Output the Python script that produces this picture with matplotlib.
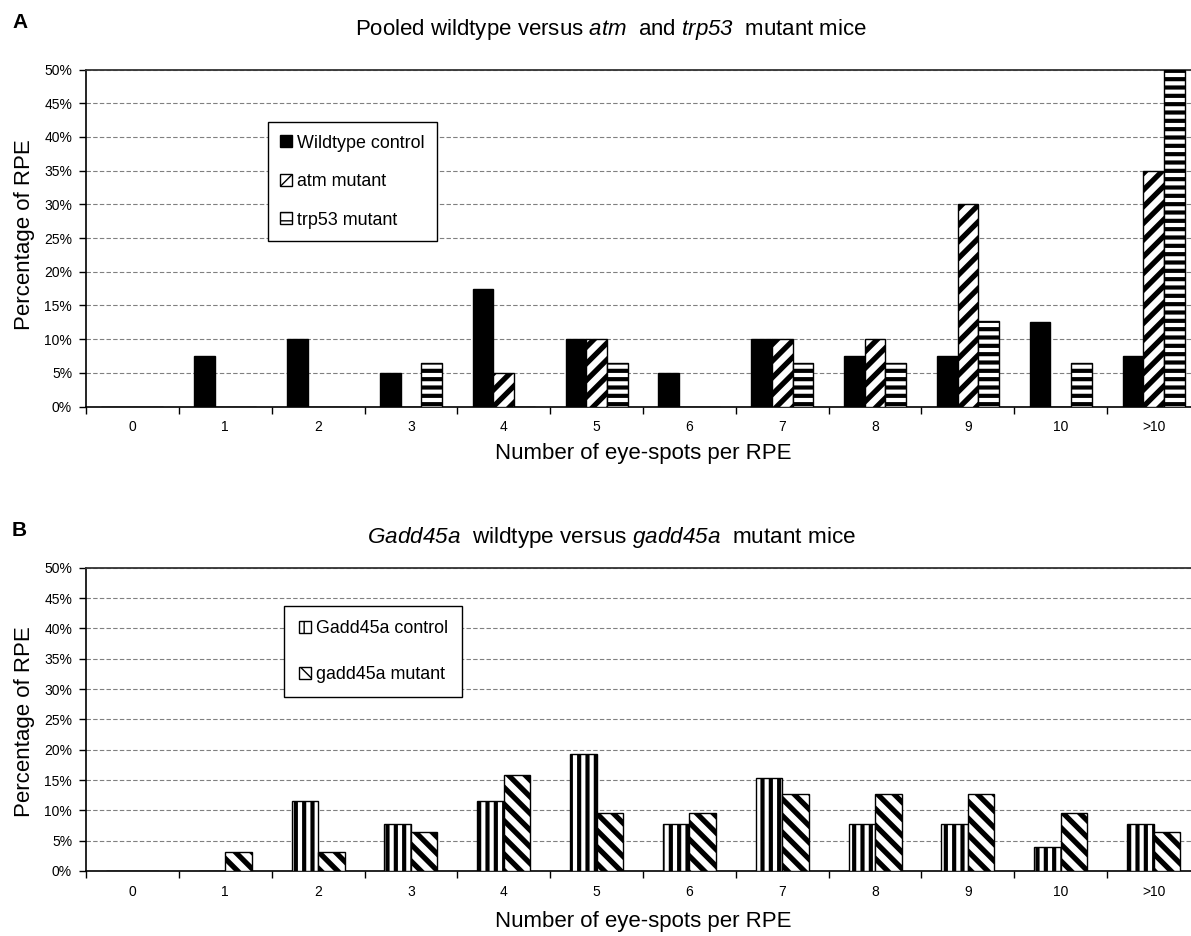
import matplotlib
matplotlib.use("Agg")
import matplotlib.pyplot as plt
import numpy as np

plt.rcParams['font.family'] = ['Liberation Sans', 'DejaVu Sans']
# gene names in the titles are set fully in italics, digits included
plt.rcParams['mathtext.fontset'] = 'custom'
plt.rcParams['mathtext.rm'] = 'Liberation Sans:italic'
plt.rcParams['mathtext.it'] = 'Liberation Sans:italic'

# Categories: number of eye-spots per RPE
categories = ["0", "1", "2", "3", "4", "5", "6", "7", "8", "9", "10", ">10"]

# Panel A, percentage of RPE
wildtype = [0, 7.5, 10, 5, 17.5, 10, 5, 10, 7.5, 7.5, 12.5, 7.5]
atm = [0, 0, 0, 0, 5, 10, 0, 10, 10, 30, 0, 35]
trp53 = [0, 0, 0, 6.5, 0, 6.5, 0, 6.5, 6.5, 12.7, 6.5, 50]

# Panel B, percentage of RPE
gadd_control = [0, 0, 11.6, 7.7, 11.6, 19.3, 7.7, 15.4, 7.7, 7.7, 3.9, 7.7]
gadd_mutant = [0, 3.2, 3.2, 6.4, 15.8, 9.6, 9.6, 12.7, 12.7, 12.7, 9.6, 6.4]

yticks = [0, 5, 10, 15, 20, 25, 30, 35, 40, 45, 50]

W, H = 1191, 936
fig = plt.figure(figsize=(W / 100, H / 100), dpi=100)


def px_axes(left, right, top, bottom):
    return fig.add_axes([left / W, 1 - bottom / H, (right - left) / W, (bottom - top) / H])


def hatched_bars(ax, x, vals, width, hatch, hlw, label):
    with plt.rc_context({'hatch.linewidth': hlw}):
        bars = ax.bar(x, vals, width, facecolor='white', edgecolor='black',
                      linewidth=1.0, hatch=hatch, zorder=3, label=label)
    for b in bars:
        if hasattr(b, 'set_hatch_linewidth'):
            b.set_hatch_linewidth(hlw)
    return bars


def style_axes(ax):
    ax.set_xlim(-0.5, 11.5)
    ax.set_ylim(0, 50)
    ax.set_yticks(yticks)
    ax.set_yticklabels([f"{t}%" for t in yticks], fontsize=10)
    ax.set_xticks(np.arange(len(categories)))
    ax.set_xticklabels(categories, fontsize=10)
    ax.set_xticks(np.arange(len(categories)) - 0.5, minor=True)
    ax.tick_params(axis='x', which='major', length=0, pad=10)
    ax.tick_params(axis='x', which='minor', length=5, width=1, direction='out')
    ax.tick_params(axis='y', length=5, width=1, direction='out', pad=5)
    ax.yaxis.grid(True, color='#808080', linestyle=(0, (4, 2)), linewidth=0.8, zorder=0)
    ax.set_axisbelow(True)
    ax.spines['right'].set_visible(False)
    ax.spines['top'].set_linewidth(1.3)
    ax.spines['top'].set_color('#333333')
    ax.spines['left'].set_linewidth(1.2)
    ax.spines['bottom'].set_linewidth(1.2)


def add_legend(ax, anchor, spacing, pad):
    ax.legend(loc='upper left', bbox_to_anchor=anchor, borderaxespad=0,
              fontsize=12.9, handlelength=0.67, handleheight=0.67, handletextpad=0.28,
              labelspacing=spacing, borderpad=pad, fancybox=False, edgecolor='black',
              framealpha=1)


x = np.arange(len(categories))

# Panel A
axA = px_axes(86, 1200, 69.5, 406.5)
wA = 1 / 4.5
axA.bar(x - wA, wildtype, wA, color='black', edgecolor='black', linewidth=1.0, zorder=3,
        label="Wildtype control")
hatched_bars(axA, x, atm, wA, '//', 3.8, "atm mutant")
hatched_bars(axA, x + wA, trp53, wA, '--', 3.0, "trp53 mutant")
style_axes(axA)
add_legend(axA, (0.163, 0.844), 1.2, 0.7)

# Panel B
axB = px_axes(86, 1200, 567.7, 871)
wB = 1 / 3.5
hatched_bars(axB, x - wB / 2, gadd_control, wB, '||', 3.0, "Gadd45a control")
hatched_bars(axB, x + wB / 2, gadd_mutant, wB, '\\\\', 3.8, "gadd45a mutant")
style_axes(axB)
add_legend(axB, (0.178, 0.875), 1.62, 0.8)

# Panel letters, titles and axis labels
fig.text(12 / W, 1 - 23 / H, "A", fontsize=15, fontweight='bold', va='center', ha='left')
fig.text(12 / W, 1 - 530 / H, "B", fontsize=15, fontweight='bold', va='center', ha='left')

fig.text(611 / W, 1 - 30 / H, r"Pooled wildtype versus $\mathrm{atm}$  and $\mathrm{trp53}$  mutant mice",
         fontsize=16, ha='center', va='center')
fig.text(611 / W, 1 - 538 / H, r"$\mathrm{Gadd45a}$  wildtype versus $\mathrm{gadd45a}$  mutant mice",
         fontsize=16.2, ha='center', va='center')

fig.text(643 / W, 1 - 453 / H, "Number of eye-spots per RPE", fontsize=16, ha='center', va='center')
fig.text(643 / W, 1 - 921 / H, "Number of eye-spots per RPE", fontsize=16, ha='center', va='center')

fig.text(25 / W, 1 - 235 / H, "Percentage of RPE", fontsize=16, rotation=90, ha='center', va='center')
fig.text(25 / W, 1 - 722 / H, "Percentage of RPE", fontsize=16, rotation=90, ha='center', va='center')

fig.savefig("out.png", dpi=100)
